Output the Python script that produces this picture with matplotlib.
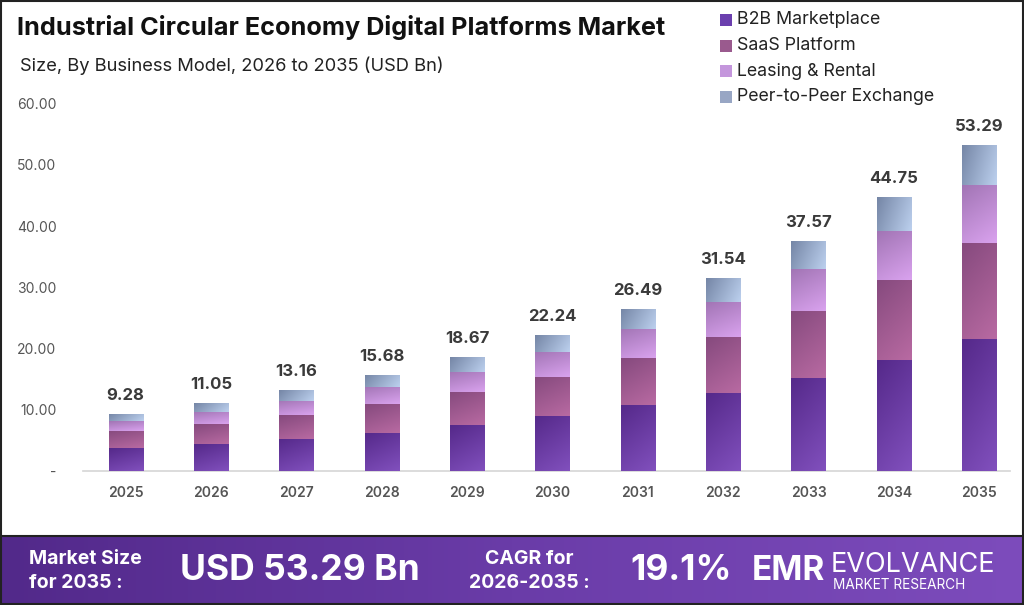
import numpy as np
import matplotlib
matplotlib.use("Agg")
import matplotlib.pyplot as plt
from matplotlib.colors import LinearSegmentedColormap
from matplotlib.patches import Rectangle

years = ["2025", "2026", "2027", "2028", "2029", "2030", "2031", "2032", "2033", "2034", "2035"]
totals = [9.28, 11.05, 13.16, 15.68, 18.67, 22.24, 26.49, 31.54, 37.57, 44.75, 53.29]
b2b = [3.70, 4.35, 5.30, 6.25, 7.50, 9.00, 10.80, 12.80, 15.20, 18.10, 21.60]
saas = [2.80, 3.25, 3.85, 4.65, 5.45, 6.40, 7.60, 9.14, 11.00, 13.10, 15.70]
leasing = [1.60, 2.10, 2.30, 2.80, 3.27, 4.10, 4.75, 5.70, 6.80, 8.00, 9.40]
p2p = [round(t - a - b - c, 2) for t, a, b, c in zip(totals, b2b, saas, leasing)]
series_names = ["B2B Marketplace", "SaaS Platform", "Leasing & Rental", "Peer-to-Peer Exchange"]
yticks = [0, 10, 20, 30, 40, 50, 60]
ytick_labels = ["-", "10.00", "20.00", "30.00", "40.00", "50.00", "60.00"]

# gradient colours (dark, light) per series
grad = {
    0: ("#55298a", "#8150bd"),
    1: ("#864a7e", "#b86aa2"),
    2: ("#a275b5", "#d9a2ee"),
    3: ("#7586a6", "#bcd0ee"),
}
legend_cols = ["#6b3fae", "#9a5a8e", "#c496dc", "#98a6c4"]

FONT = ["Inter", "DejaVu Sans"]
plt.rcParams["font.family"] = FONT

fig = plt.figure(figsize=(10.24, 6.05), dpi=100)
W, H = 1024, 605

def fx(px):
    return px / W

def fy(py):
    return 1 - py / H

# main axes
ax_left, ax_right = 83, 1010
y0_px, ppu = 471, 6.12
ymax = 62
ax = fig.add_axes([fx(ax_left), fy(y0_px), fx(ax_right - ax_left), ymax * ppu / H])
ax.set_xlim(-0.5, 10.36)
ax.set_ylim(0, ymax)

x = np.arange(len(years))
width = 0.4
bottoms = np.zeros(len(years))
for si, vals in enumerate([b2b, saas, leasing, p2p]):
    c1, c2 = grad[si]
    cmap = LinearSegmentedColormap.from_list(f"g{si}", [c1, c2])
    bars = ax.bar(x, vals, width, bottom=bottoms, color=legend_cols[si], edgecolor="none", zorder=2)
    for b in bars:
        bx, by = b.get_x(), b.get_y()
        bw, bh = b.get_width(), b.get_height()
        gx = np.linspace(0, 1, 40)
        gy = np.linspace(0, 1, 40)
        GX, GY = np.meshgrid(gx, gy)
        if si == 3:
            Z = 0.75 * GX + 0.25 * GY
        else:
            Z = 0.3 * GX + 0.7 * GY
        # row 0 (dark) at the top of the segment
        im = ax.imshow(Z, cmap=cmap, vmin=0, vmax=1, extent=[bx, bx + bw, by, by + bh],
                       aspect="auto", origin="upper", zorder=3, interpolation="bilinear")
        im.set_clip_path(b)
    bottoms += np.array(vals)

for xi, t in zip(x, totals):
    ax.annotate(f"{t:.2f}", (xi, t), xytext=(0, 8), textcoords="offset points",
                ha="center", va="bottom", fontsize=12, fontweight="bold", color="#3a3a3a")

ax.set_xticks(x)
ax.set_xticklabels(years, fontsize=10, fontweight="semibold", color="#555555")
ax.set_yticks(yticks)
ax.set_yticklabels(ytick_labels, fontsize=10, color="#555555")
ax.tick_params(axis="both", length=0)
ax.tick_params(axis="y", pad=19)
ax.tick_params(axis="x", pad=11)
for s in ["top", "right", "left"]:
    ax.spines[s].set_visible(False)
ax.spines["bottom"].set_color("#d5d5d5")
ax.spines["bottom"].set_linewidth(1.2)
ax.set_facecolor("none")

# titles
fig.text(fx(17), fy(28), "Industrial Circular Economy Digital Platforms Market", fontsize=18.2,
         fontweight="bold", color="#111111", va="center", ha="left")
fig.text(fx(20), fy(66), "Size, By Business Model, 2026 to 2035 (USD Bn)", fontsize=13.2,
         color="#222222", va="center", ha="left")

# legend
for i, name in enumerate(series_names):
    yc = 20 + i * 25.5
    fig.patches.append(Rectangle((fx(720), fy(yc + 6)), fx(12), 12 / H, transform=fig.transFigure,
                                 facecolor=legend_cols[i], edgecolor="none"))
    fig.text(fx(737), fy(yc), name, fontsize=12.8, color="#222222", va="center", ha="left")

# banner
bax = fig.add_axes([0, 0, 1, (H - 537) / H])
bg = np.linspace(0, 1, 256).reshape(1, -1)
bcmap = LinearSegmentedColormap.from_list("ban", ["#52298a", "#6a3ca8", "#7d4cbc"])
bax.imshow(bg, cmap=bcmap, aspect="auto", extent=[0, 1, 0, 1])
bax.set_xlim(0, 1)
bax.set_ylim(0, 1)
bax.axis("off")

fig.text(fx(29), fy(559), "Market Size", fontsize=14, fontweight="bold", color="white", va="center")
fig.text(fx(29), fy(583), "for 2035 :", fontsize=14, fontweight="bold", color="white", va="center")
fig.text(fx(180), fy(571), "USD 53.29 Bn", fontsize=25.5, fontweight="bold", color="white", va="center")
fig.text(fx(529), fy(559), "CAGR for", fontsize=14, fontweight="bold", color="white", va="center", ha="center")
fig.text(fx(529), fy(583), "2026-2035 :", fontsize=14, fontweight="bold", color="white", va="center", ha="center")
fig.text(fx(630), fy(571), "19.1%", fontsize=25.5, fontweight="bold", color="white", va="center")
fig.text(fx(752), fy(571), "EMR", fontsize=24, fontweight="bold", color="white", va="center")
fig.text(fx(831), fy(565), "EVOLVANCE", fontsize=19.5, color="white", va="center")
fig.text(fx(833), fy(585), "MARKET RESEARCH", fontsize=9.8, color="white", va="center")

# frame lines
fig.lines.append(plt.Line2D([0, 1], [fy(536), fy(536)], transform=fig.transFigure, color="#222222", lw=1.5))
fig.patches.append(Rectangle((0.001, 0.001), 0.998, 0.997, transform=fig.transFigure, fill=False,
                             edgecolor="#222222", lw=1.5))

fig.savefig("out.png", dpi=100)
